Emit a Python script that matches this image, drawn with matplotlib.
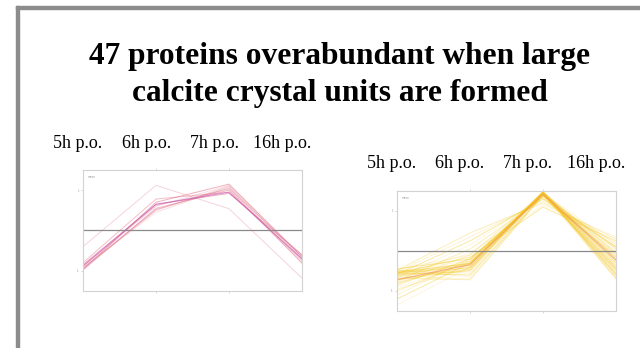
import matplotlib.pyplot as plt
from matplotlib.patches import Rectangle

TITULO = "47 proteins overabundant when large\ncalcite crystal units are formed"
tempos = ["5h p.o.", "6h p.o.", "7h p.o.", "16h p.o."]

# painel esquerdo (vermelho), um valor por proteína em cada tempo
esq_5h = [-0.95, -0.98, -0.90, -0.85, -0.40, -0.80, -0.92, -0.97, -0.88, -0.93]
esq_6h = [0.50, 0.55, 0.60, 0.65, 1.12, 0.78, 0.45, 0.70, 0.62, 0.52]
esq_7h = [1.10, 1.00, 1.12, 0.92, 0.54, 0.95, 1.08, 1.15, 1.02, 1.05]
esq_16h = [-0.70, -0.80, -0.62, -0.60, -1.18, -0.72, -0.82, -0.66, -0.76, -0.64]
esq_media = [-0.88, 0.65, 0.95, -0.70]

# painel direito (amarelo)
dir_5h = [-0.50, -0.55, -0.60, -0.45, -0.65, -0.70, -0.50, -0.55, -0.62, -0.48,
          -0.52, -0.58, -0.66, -0.75, -0.46, -0.80, -0.90, -1.00, -1.10, -1.20,
          -1.35, -0.60, -0.50, -0.55, -0.62, -0.70, -0.58, -0.52, -0.65, -0.72,
          -0.95, -0.85, -0.48, -0.68, -0.78, -0.56, -0.63]
dir_6h = [-0.25, -0.30, -0.35, -0.20, -0.40, -0.45, -0.55, -0.60, -0.70, 0.45,
          0.35, 0.25, 0.15, 0.05, -0.10, -0.30, -0.35, -0.25, -0.20, -0.30,
          -0.40, -0.50, -0.45, -0.15, -0.05, -0.40, -0.38, -0.32, -0.28, -0.48,
          -0.42, -0.20, -0.65, -0.72, -0.10, -0.35, -0.42]
dir_7h = [1.45, 1.48, 1.45, 1.40, 1.46, 1.44, 1.42, 1.40, 1.38, 1.20,
          1.25, 1.30, 1.35, 1.32, 1.45, 1.48, 1.46, 1.44, 1.42, 1.40,
          1.43, 1.47, 1.45, 1.10, 1.15, 1.48, 1.47, 1.46, 1.44, 1.47,
          1.46, 1.38, 1.41, 1.39, 1.36, 1.48, 1.45]
dir_16h = [-0.10, -0.20, -0.30, 0.05, -0.45, -0.55, -0.35, -0.25, -0.15, 0.30,
           0.20, 0.10, 0.00, -0.10, -0.40, -0.60, -0.65, -0.50, -0.70, -0.45,
           -0.55, -0.05, 0.15, 0.25, 0.35, -0.30, -0.20, -0.40, -0.35, -0.60,
           -0.25, -0.15, -0.50, 0.10, -0.05, -0.68, -0.45]
dir_media = [-0.72, -0.34, 1.42, -0.22]

W, H = 640, 348
fig = plt.figure(figsize=(W / 100, H / 100), dpi=100)

# moldura cinza do slide (esquerda e topo)
fig.patches.append(Rectangle((16 / W, 0), 3 / W, 342 / H, transform=fig.transFigure,
                             color="#8c8c8c", zorder=0))
fig.patches.append(Rectangle((16 / W, 339 / H), 624 / W, 3 / H, transform=fig.transFigure,
                             color="#8c8c8c", zorder=0))

fig.text(340 / W, 1 - 75 / H, TITULO, ha="center", va="center", fontsize=22.6,
         fontweight="bold", family="Liberation Serif", linespacing=1.32)


def painel(caixa, colunas, media, cor, cor_media, alfas, xs_rotulos, y_rotulo):
    ax = fig.add_axes(caixa)
    x = range(len(tempos))
    n = len(colunas[0])
    for i in range(n):
        ys = [c[i] for c in colunas]
        ax.plot(x, ys, color=cor, lw=0.7, alpha=alfas[i % len(alfas)])
    ax.plot(x, media, color=cor_media, lw=0.8, alpha=0.5)
    ax.axhline(0, color="#8a8a8a", lw=0.9)
    ax.set_xlim(0, 3)
    ax.set_ylim(-1.5, 1.5)
    ax.set_xticks([1, 2])
    ax.set_xticklabels([])
    ax.set_yticks([-1, 1])
    ax.set_yticklabels(["-1", "1"], fontsize=2, color="#999999")
    ax.tick_params(length=1.5, width=0.4, color="#bbbbbb", pad=1, top=True)
    for s in ax.spines.values():
        s.set_color("#d2d2d2")
        s.set_linewidth(0.8)
    ax.text(0.02, 0.96, "mean", transform=ax.transAxes, fontsize=2,
            color="#999999", va="top")
    for xr, rot in zip(xs_rotulos, tempos):
        fig.text(xr / W, 1 - y_rotulo / H, rot, ha="left", va="center",
                 fontsize=13, family="Liberation Serif")
    return ax


painel([83 / W, 1 - 291 / H, 219 / W, 121 / H],
       [esq_5h, esq_6h, esq_7h, esq_16h], esq_media,
       "#e07088", "#c040c0", [0.3, 0.45, 0.22, 0.55], [53, 122, 190, 253], 143)
painel([397 / W, 1 - 311 / H, 219 / W, 120 / H],
       [dir_5h, dir_6h, dir_7h, dir_16h], dir_media,
       "#f5c518", "#f08080", [0.15, 0.3, 0.2, 0.4], [367, 435, 503, 567], 163)

fig.savefig("out.png", dpi=100)
